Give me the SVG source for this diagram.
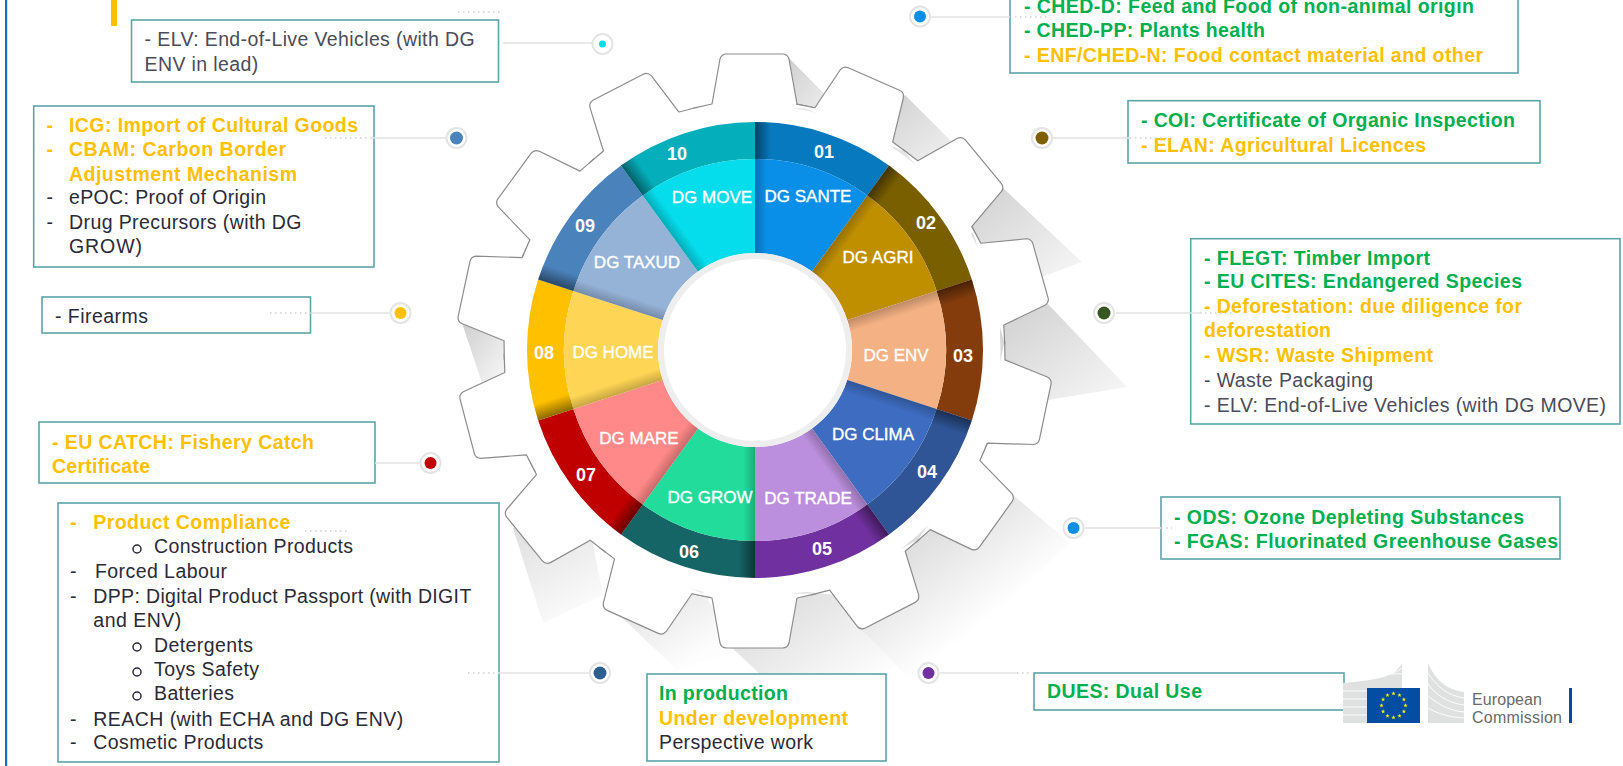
<svg xmlns="http://www.w3.org/2000/svg" xmlns:xlink="http://www.w3.org/1999/xlink" width="1623" height="766" viewBox="0 0 1623 766">
<style>
text{font-family:"Liberation Sans",Arial,sans-serif}
.t{font-size:19.5px;fill:#2a2a38}
.s{font-size:19.5px;fill:#4a4c5a}
.g{font-size:19.5px;font-weight:bold;fill:#00b050}
.o{font-size:19.5px;font-weight:bold;fill:#ffc000}
.box{fill:#fff;stroke:#5aa5a8;stroke-width:1.6}
.dg{font-size:17px;fill:#fff;stroke:#fff;stroke-width:.35;text-anchor:middle}
.n{font-size:18px;font-weight:bold;fill:#fff;text-anchor:middle}
.ln{stroke:#e2e2e2;stroke-width:1.6;fill:none}
.dt{stroke:#d0d0d0;stroke-width:1.4;stroke-dasharray:1.5 3.5;fill:none}
.halo{fill:#fff;stroke:#e4e4e4;stroke-width:2}
.tooth{fill:#fff;stroke:#8c8c8c;stroke-width:1.2;stroke-linejoin:round}
.sh{fill:url(#shA)}
.bl{fill:none;stroke:#2a2a38;stroke-width:1.5}
.bld{fill:#dfe0e0}
.bw{stroke:#fff;stroke-width:.9;fill:none}
.ec{font-size:16px;fill:#6a6a6a}
</style>
<defs>
<linearGradient id="shA" x1="0" y1="0" x2="1" y2="1"><stop offset="0" stop-color="#cfcfcf"/><stop offset="1" stop-color="#f8f8f8"/></linearGradient>
<linearGradient id="shP" gradientUnits="userSpaceOnUse" x1="520" y1="520" x2="572" y2="612"><stop offset="0" stop-color="#dedede"/><stop offset="1" stop-color="#fafafa"/></linearGradient>
<linearGradient id="shQ" gradientUnits="userSpaceOnUse" x1="640" y1="590" x2="684" y2="664"><stop offset="0" stop-color="#e2e2e2"/><stop offset="1" stop-color="#fdfdfd"/></linearGradient>
<linearGradient id="shR" gradientUnits="userSpaceOnUse" x1="790" y1="610" x2="850" y2="700"><stop offset="0" stop-color="#e2e2e2"/><stop offset="1" stop-color="#fefefe"/></linearGradient>
<linearGradient id="shS" gradientUnits="userSpaceOnUse" x1="930" y1="520" x2="1000" y2="610"><stop offset="0" stop-color="#dcdcdc"/><stop offset="1" stop-color="#fff"/></linearGradient>
<linearGradient id="edge" gradientUnits="userSpaceOnUse" x1="0" y1="0" x2="16" y2="0"><stop offset="0" stop-color="#000" stop-opacity=".45"/><stop offset="1" stop-color="#000" stop-opacity="0"/></linearGradient>
<linearGradient id="edge2" gradientUnits="userSpaceOnUse" x1="0" y1="0" x2="12" y2="0"><stop offset="0" stop-color="#000" stop-opacity=".22"/><stop offset="1" stop-color="#000" stop-opacity="0"/></linearGradient>
<path id="tooth" d="M-61-242.8L-42.5-247L-34.5-292Q-33-297-28-297L28-297Q33-297 34.5-292L42.5-247L61-242.8"/>
<path id="wo" d="M0-228A228 228 0 0 1 134-184.5L112.3-154.5A191 191 0 0 0 0-191Z"/>
<path id="wi" d="M0-191A191 191 0 0 1 112.3-154.5L57-78.5A97 97 0 0 0 0-97Z"/>
<polygon id="star" points="0,-2.2 .6,-.7 2.1,-.7 .9,.3 1.3,1.8 0,.9 -1.3,1.8 -.9,.3 -2.1,-.7 -.6,-.7" fill="#ffed00"/>
</defs>
<rect width="1623" height="766" fill="#fff"/>
<rect x="5" y="0" width="2.2" height="766" fill="#0f6fc6"/>
<rect x="111" y="0" width="6" height="26" fill="#ffc000"/>
<g id="shadows">
<polygon class="sh" points="788,57 850,120 790,120"/>
<polygon class="sh" points="905,95 975,165 900,170 880,120"/>
<polygon class="sh" points="1003,188 1082,262 1042,277 980,280 965,200"/>
<polygon class="sh" points="1047,303 1127,387 1048,400 1000,380 1000,320"/>
<polygon class="sh" points="462,323 505,341 505,373 482,383"/>
<polygon fill="url(#shP)" points="513,528 543,623 603,595 590,530"/>
<polygon fill="url(#shQ)" points="612,608 677,670 745,648 720,620 690,570 620,590"/>
<polygon fill="url(#shR)" points="727,643 800,712 930,650 880,600 790,590"/>
<polygon fill="url(#shS)" points="1013,495 1070,543 918,687 860,628 850,540 940,500"/>
</g>
<g id="gear">
<circle cx="754.5" cy="351" r="246" fill="#fff"/>
<use href="#tooth" class="tooth" transform="translate(754.5 351) rotate(0)"/>
<use href="#tooth" class="tooth" transform="translate(754.5 351) rotate(23.7)"/>
<use href="#tooth" class="tooth" transform="translate(754.5 351) rotate(50.4)"/>
<use href="#tooth" class="tooth" transform="translate(754.5 351) rotate(74.3)"/>
<use href="#tooth" class="tooth" transform="translate(754.5 351) rotate(101.8)"/>
<use href="#tooth" class="tooth" transform="translate(754.5 351) rotate(125.7)"/>
<use href="#tooth" class="tooth" transform="translate(754.5 351) rotate(152.8)"/>
<use href="#tooth" class="tooth" transform="translate(754.5 351) rotate(180)"/>
<use href="#tooth" class="tooth" transform="translate(754.5 351) rotate(-155.8)"/>
<use href="#tooth" class="tooth" transform="translate(754.5 351) rotate(-129.3)"/>
<use href="#tooth" class="tooth" transform="translate(754.5 351) rotate(-104.7)"/>
<use href="#tooth" class="tooth" transform="translate(754.5 351) rotate(-77.9)"/>
<use href="#tooth" class="tooth" transform="translate(754.5 351) rotate(-53.9)"/>
<use href="#tooth" class="tooth" transform="translate(754.5 351) rotate(-27.3)"/>
</g>
<g id="dg-sante"><g transform="translate(755 350) rotate(0)"><use href="#wo" fill="#0779bf"/><use href="#wi" fill="#0a8fe8"/><use href="#wo" fill="url(#edge)"/><use href="#wi" fill="url(#edge2)"/></g><text class="dg" x="808" y="202">DG SANTE</text><text class="n" x="824" y="158">01</text></g>
<g id="dg-agri"><g transform="translate(755 350) rotate(36)"><use href="#wo" fill="#7a5f00"/><use href="#wi" fill="#bf8f00"/><use href="#wo" fill="url(#edge)"/><use href="#wi" fill="url(#edge2)"/></g><text class="dg" x="878" y="263">DG AGRI</text><text class="n" x="926" y="229">02</text></g>
<g id="dg-env"><g transform="translate(755 350) rotate(72)"><use href="#wo" fill="#843c0c"/><use href="#wi" fill="#f4b183"/><use href="#wo" fill="url(#edge)"/><use href="#wi" fill="url(#edge2)"/></g><text class="dg" x="896" y="361">DG ENV</text><text class="n" x="963" y="362">03</text></g>
<g id="dg-clima"><g transform="translate(755 350) rotate(108)"><use href="#wo" fill="#2f5597"/><use href="#wi" fill="#3d6cc0"/><use href="#wo" fill="url(#edge)"/><use href="#wi" fill="url(#edge2)"/></g><text class="dg" x="873" y="440">DG CLIMA</text><text class="n" x="927" y="478">04</text></g>
<g id="dg-trade"><g transform="translate(755 350) rotate(144)"><use href="#wo" fill="#7030a0"/><use href="#wi" fill="#bb8fdd"/><use href="#wo" fill="url(#edge)"/><use href="#wi" fill="url(#edge2)"/></g><text class="dg" x="808" y="504">DG TRADE</text><text class="n" x="822" y="555">05</text></g>
<g id="dg-grow"><g transform="translate(755 350) rotate(180)"><use href="#wo" fill="#156466"/><use href="#wi" fill="#22dc9c"/><use href="#wo" fill="url(#edge)"/><use href="#wi" fill="url(#edge2)"/></g><text class="dg" x="710" y="503">DG GROW</text><text class="n" x="689" y="558">06</text></g>
<g id="dg-mare"><g transform="translate(755 350) rotate(216)"><use href="#wo" fill="#c00000"/><use href="#wi" fill="#ff8888"/><use href="#wo" fill="url(#edge)"/><use href="#wi" fill="url(#edge2)"/></g><text class="dg" x="639" y="444">DG MARE</text><text class="n" x="586" y="481">07</text></g>
<g id="dg-home"><g transform="translate(755 350) rotate(252)"><use href="#wo" fill="#ffc000"/><use href="#wi" fill="#ffd555"/><use href="#wo" fill="url(#edge)"/><use href="#wi" fill="url(#edge2)"/></g><text class="dg" x="613" y="358">DG HOME</text><text class="n" x="544" y="359">08</text></g>
<g id="dg-taxud"><g transform="translate(755 350) rotate(288)"><use href="#wo" fill="#4a82bb"/><use href="#wi" fill="#95b3d7"/><use href="#wo" fill="url(#edge)"/><use href="#wi" fill="url(#edge2)"/></g><text class="dg" x="637" y="268">DG TAXUD</text><text class="n" x="585" y="232">09</text></g>
<g id="dg-move"><g transform="translate(755 350) rotate(324)"><use href="#wo" fill="#05aebb"/><use href="#wi" fill="#05dcec"/><use href="#wo" fill="url(#edge)"/><use href="#wi" fill="url(#edge2)"/></g><text class="dg" x="712" y="203">DG MOVE</text><text class="n" x="677" y="160">10</text></g>
<g id="hub"><circle cx="755" cy="350" r="97" fill="#eeeeee"/><circle cx="755" cy="350" r="91" fill="#fff"/></g>
<g id="box-elv"><rect class="box" x="131.5" y="20" width="367" height="62"/>
<text class="s" x="144.6" y="45.7" textLength="330">- ELV: End-of-Live Vehicles (with DG</text>
<text class="s" x="144.6" y="71" textLength="113.6">ENV in lead)</text></g>
<g id="box-taxud"><rect class="box" x="33.7" y="106" width="340.3" height="161"/>
<text class="o" x="46.5" y="132">-</text><text class="o" x="69" y="132" textLength="289">ICG: Import of Cultural Goods</text>
<text class="o" x="46.5" y="155.7">-</text><text class="o" x="69" y="155.7" textLength="217">CBAM: Carbon Border</text>
<text class="o" x="69" y="181" textLength="228">Adjustment Mechanism</text>
<text class="t" x="46.5" y="204">-</text><text class="t" x="69" y="204" textLength="197">ePOC: Proof of Origin</text>
<text class="t" x="46.5" y="229">-</text><text class="t" x="69" y="229" textLength="232.5">Drug Precursors (with DG</text>
<text class="t" x="69" y="253" textLength="73">GROW)</text></g>
<g id="box-home"><rect class="box" x="42" y="297" width="268.5" height="36"/>
<text class="t" x="55" y="323" textLength="93">- Firearms</text></g>
<g id="box-mare"><rect class="box" x="39" y="422" width="336" height="61"/>
<text class="o" x="52" y="449" textLength="262">- EU CATCH: Fishery Catch</text>
<text class="o" x="52" y="473" textLength="98">Certificate</text></g>
<g id="box-grow"><rect class="box" x="58" y="503" width="441" height="259"/>
<text class="o" x="70" y="529">-</text><text class="o" x="93.3" y="529" textLength="197">Product Compliance</text>
<circle class="bl" cx="137" cy="549" r="4"/><text class="t" x="154" y="553" textLength="199">Construction Products</text>
<text class="t" x="70" y="578">-</text><text class="t" x="95" y="578" textLength="132">Forced Labour</text>
<text class="t" x="70" y="603">-</text><text class="t" x="93.3" y="603" textLength="378">DPP: Digital Product Passport (with DIGIT</text>
<text class="t" x="93.3" y="627" textLength="88">and ENV)</text>
<circle class="bl" cx="137" cy="647" r="4"/><text class="t" x="154" y="652" textLength="99">Detergents</text>
<circle class="bl" cx="137" cy="672" r="4"/><text class="t" x="154" y="676" textLength="105">Toys Safety</text>
<circle class="bl" cx="137" cy="696" r="4"/><text class="t" x="154" y="700" textLength="80">Batteries</text>
<text class="t" x="70" y="725.7">-</text><text class="t" x="93.3" y="725.7" textLength="310">REACH (with ECHA and DG ENV)</text>
<text class="t" x="70" y="749">-</text><text class="t" x="93.3" y="749" textLength="170">Cosmetic Products</text></g>
<g id="box-legend"><rect class="box" x="647" y="674" width="239" height="87"/>
<text class="g" x="659" y="700" textLength="129">In production</text>
<text class="o" x="659" y="725" textLength="189">Under development</text>
<text class="t" x="659" y="749" textLength="154">Perspective work</text></g>
<g id="box-sante"><rect class="box" x="1010" y="-20" width="508" height="93"/>
<text class="g" x="1024" y="13" textLength="450">- CHED-D: Feed and Food of non-animal origin</text>
<text class="g" x="1024" y="36.7" textLength="241">- CHED-PP: Plants health</text>
<text class="o" x="1024" y="62" textLength="459">- ENF/CHED-N: Food contact material and other</text></g>
<g id="box-agri"><rect class="box" x="1128" y="100.7" width="412" height="62.3"/>
<text class="g" x="1141" y="127" textLength="374">- COI: Certificate of Organic Inspection</text>
<text class="o" x="1141" y="152" textLength="285">- ELAN: Agricultural Licences</text></g>
<g id="box-env"><rect class="box" x="1190.7" y="238.7" width="429.3" height="185.3"/>
<text class="g" x="1204" y="264.5" textLength="226">- FLEGT: Timber Import</text>
<text class="g" x="1204" y="288" textLength="318">- EU CITES: Endangered Species</text>
<text class="o" x="1204" y="313" textLength="318">- Deforestation: due diligence for</text>
<text class="o" x="1204" y="337" textLength="127">deforestation</text>
<text class="o" x="1204" y="362" textLength="229">- WSR: Waste Shipment</text>
<text class="s" x="1204" y="387" textLength="169">- Waste Packaging</text>
<text class="s" x="1204" y="412" textLength="402">- ELV: End-of-Live Vehicles (with DG MOVE)</text></g>
<g id="box-clima"><rect class="box" x="1161" y="497" width="399" height="62"/>
<text class="g" x="1174" y="524" textLength="350">- ODS: Ozone Depleting Substances</text>
<text class="g" x="1174" y="548" textLength="384">- FGAS: Fluorinated Greenhouse Gases</text></g>
<g id="box-trade"><rect class="box" x="1034" y="673" width="310" height="37"/>
<text class="g" x="1047" y="698" textLength="155">DUES: Dual Use</text></g>
<g id="connectors">
<path class="dt" d="M458 12H501M325 138H370M270 313H312M305 531H347M468 673H498M1015 17H1048M1130 138H1172M1200 313H1236M1161 528H1172M1017 673H1032"/>
<path class="ln" d="M503 43H592M370 138H446M312 313H390M375 463H420M498 673H590M931 17H1010M1053 138H1130M1116 313H1200M1085 528H1161M940 673H1017"/>
<circle class="halo" cx="602.5" cy="44" r="10"/><circle cx="602.5" cy="44" r="3.5" fill="#05dcec"/>
<circle class="halo" cx="920" cy="16.5" r="10"/><circle cx="920" cy="16.5" r="6" fill="#0a8fe8"/>
<circle class="halo" cx="1042" cy="138" r="10"/><circle cx="1042" cy="138" r="6.5" fill="#7f6000"/>
<circle class="halo" cx="1104" cy="313" r="10"/><circle cx="1104" cy="313" r="6.5" fill="#385723"/>
<circle class="halo" cx="1073.5" cy="528" r="10"/><circle cx="1073.5" cy="528" r="6" fill="#0a8fe8"/>
<circle class="halo" cx="928.5" cy="673" r="10"/><circle cx="928.5" cy="673" r="6" fill="#7030a0"/>
<circle class="halo" cx="600" cy="673" r="10"/><circle cx="600" cy="673" r="6.5" fill="#2f5f8f"/>
<circle class="halo" cx="430.5" cy="463" r="10"/><circle cx="430.5" cy="463" r="6" fill="#c00000"/>
<circle class="halo" cx="400.5" cy="313" r="10"/><circle cx="400.5" cy="313" r="6" fill="#ffc000"/>
<circle class="halo" cx="456.5" cy="138" r="10"/><circle cx="456.5" cy="138" r="6.5" fill="#4a82bb"/>
</g>
<g id="logo">
<path class="bld" d="M1343 683C1375 680 1395 678 1402 663V688H1367V723H1343Z"/>
<path class="bw" d="M1343 691H1367M1343 699H1367M1343 707H1367M1343 715H1367M1345 682C1375 678 1394 675 1402 668M1367 677C1385 675 1396 673 1402 674"/>
<path class="bld" d="M1428 663C1434 678 1446 690 1464 692V723H1428Z"/>
<path class="bw" d="M1428 673C1435 685 1448 696 1464 698M1428 684C1436 695 1448 703 1464 705M1428 696C1438 704 1450 711 1464 712M1428 708C1438 714 1450 717 1464 718"/>
<rect x="1367" y="688" width="53" height="35" fill="#034ea2"/>
<use href="#star" x="1393.5" y="693.5"/><use href="#star" x="1399.5" y="695.1"/><use href="#star" x="1403.9" y="699.5"/><use href="#star" x="1405.5" y="705.5"/><use href="#star" x="1403.9" y="711.5"/><use href="#star" x="1399.5" y="715.9"/><use href="#star" x="1393.5" y="717.5"/><use href="#star" x="1387.5" y="715.9"/><use href="#star" x="1383.1" y="711.5"/><use href="#star" x="1381.5" y="705.5"/><use href="#star" x="1383.1" y="699.5"/><use href="#star" x="1387.5" y="695.1"/>
<text class="ec" x="1472" y="705" textLength="70">European</text>
<text class="ec" x="1472" y="723" textLength="90">Commission</text>
<rect x="1569" y="688" width="3" height="35" fill="#034ea2"/>
</g>
</svg>
